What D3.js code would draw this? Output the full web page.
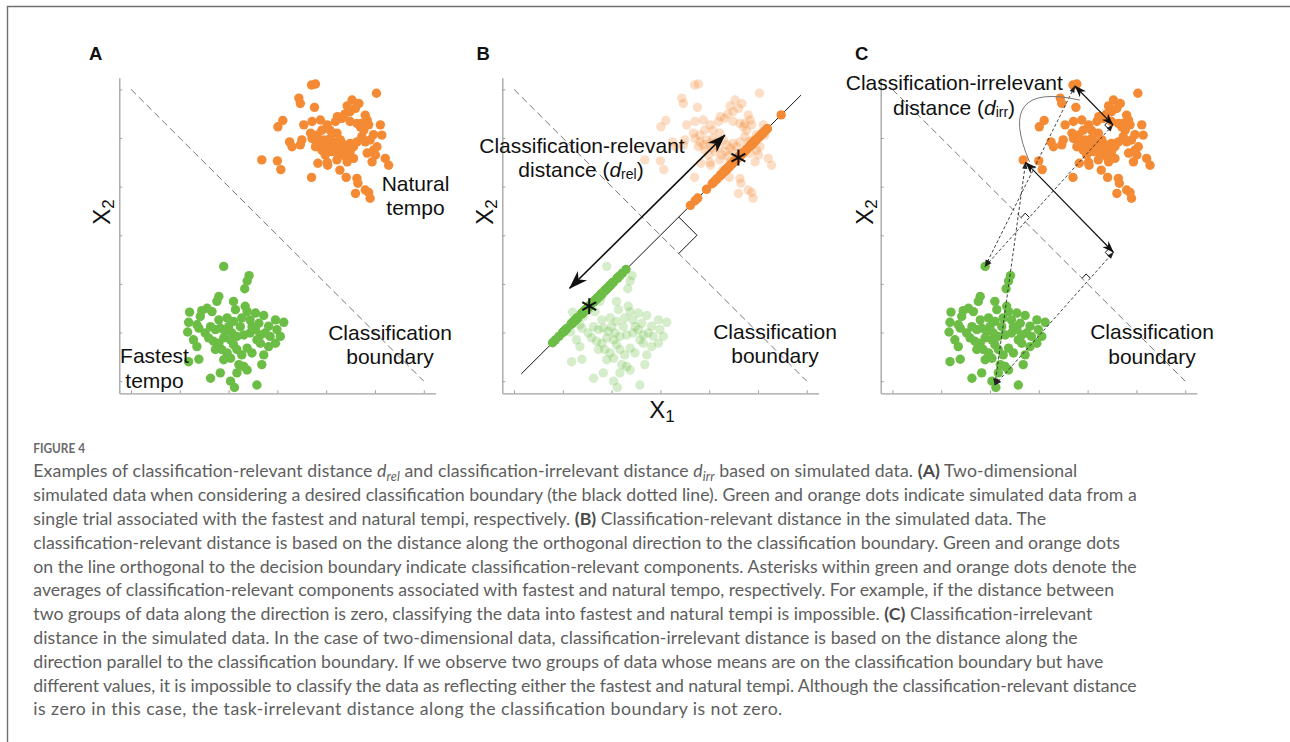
<!DOCTYPE html>
<html><head><meta charset="utf-8">
<script src="https://cdn.jsdelivr.net/npm/d3@7"></script>
<style>
body{margin:0;background:#fff;}
svg{display:block;}
</style></head><body>
<svg id="fig" width="1290" height="742"></svg>
<script>
// Simulated two-dimensional trials (x1, x2)
const fastestTempo = [
 [1.90,2.36],[2.42,2.17],[2.38,2.06],[2.33,1.90],[1.80,1.74],[1.76,1.64],[1.20,1.42],[1.18,1.21],
 [1.45,1.45],[1.56,1.50],[1.66,1.43],[1.42,1.33],[1.39,1.09],[1.35,1.16],[2.10,1.64],[2.14,1.47],
 [2.34,1.54],[2.38,1.43],[2.55,1.40],[2.72,1.35],[1.80,1.26],[1.97,1.30],[2.10,1.23],[2.27,1.30],
 [2.44,1.26],[2.24,1.12],[1.83,1.09],[1.73,1.06],[1.93,1.02],[2.07,0.99],[1.59,0.89],[1.69,0.82],
 [1.80,0.78],[1.90,0.89],[2.04,0.85],[2.17,0.92],[2.31,0.95],[2.44,0.99],[2.55,1.06],[2.65,0.95],
 [2.75,0.99],[2.85,0.92],[2.96,1.26],[3.13,1.21],[2.99,1.06],[3.06,0.92],[2.96,0.78],[2.82,0.71],
 [2.58,0.85],[1.28,0.85],[1.35,0.71],[1.39,0.45],[1.18,0.40],[1.86,0.65],[1.97,0.58],[2.04,0.47],
 [1.90,0.44],[2.17,0.65],[2.27,0.54],[2.38,0.68],[2.48,0.58],[2.21,0.34],[2.31,0.30],[2.38,0.23],
 [2.17,0.17],[2.72,0.54],[2.68,0.34],[1.83,0.17],[1.63,0.06],[2.04,0.00],[2.12,-0.13],[2.58,-0.08],
 [1.63,1.12],[1.52,0.99],[2.00,1.12],[2.62,1.19],[2.82,1.13],[2.48,1.12],[2.10,0.75],[1.73,0.65],
 [2.65,0.78],[1.16,1.01]
];
const naturalTempo = [
 [3.70,6.09],[3.78,6.11],[5.03,5.92],[3.44,5.82],[3.47,5.71],[3.11,5.36],[3.01,5.23],[3.76,5.63],
 [4.53,5.78],[4.67,5.71],[4.43,5.66],[4.60,5.61],[4.49,5.54],[4.38,5.49],[4.23,5.44],[4.32,5.40],
 [4.80,5.47],[4.84,5.37],[4.73,5.30],[4.87,5.27],[4.70,5.23],[5.11,5.27],[4.97,5.07],[5.14,5.06],
 [3.54,5.27],[3.71,5.34],[3.88,5.37],[4.02,5.27],[3.91,5.16],[4.49,5.34],[4.63,5.30],
 [3.25,4.92],[3.30,4.82],[3.50,4.96],[3.47,4.86],
 [3.71,4.99],[3.81,4.92],[3.88,4.86],[3.95,4.96],[4.02,4.89],[4.08,4.99],[4.15,4.92],[3.91,4.75],
 [4.05,4.79],[4.19,4.82],[4.29,4.96],[4.36,4.86],[4.43,4.79],[4.49,4.89],[4.32,4.72],[4.26,4.65],
 [4.39,4.62],[4.22,4.55],[4.49,4.72],[4.56,4.82],
 [4.73,5.03],[4.80,4.92],[4.90,4.96],[4.84,4.69],[4.97,4.75],[5.01,4.65],[4.94,4.51],[5.04,4.82],
 [2.68,4.55],[3.00,4.53],[3.07,4.35],[3.83,4.48],[4.02,4.50],[4.03,4.44],[4.28,4.34],[4.41,4.19],
 [3.70,4.19],[4.63,4.17],[4.65,4.07],[4.80,3.93],[4.87,3.88],[4.60,3.86],[4.90,3.76],[5.21,4.58],
 [5.28,4.44],
 [3.78,4.82],[4.12,4.72],[4.43,4.51],[3.81,5.06],[4.22,5.10],[4.08,5.16],[4.56,4.58],[4.63,4.92],
 [3.98,4.65],[3.68,5.10],[4.77,5.16],[4.19,5.34]
];
const axisTicks = [0,1,2,3,4,5,6];
// decision boundary x1 + x2 = 6
const boundaryLine = [[0,6],[6,0]];
// extent of the orthogonal axis x2 = x1 (panel B)
const relevantAxis = [0.15, 5.88];
const relevantArrow = [[1.14,1.91],[4.32,5.06]];
// trial pairs for the parallel (irrelevant) component (panel C)
const irrelevantPairs = [
 {green:[1.90,2.36], orange:[3.74,6.07], corner:[4.52,5.27]},
 {green:[2.10,-0.08], orange:[2.73,4.50], corner:[4.53,2.65]}
];
const irrelevantArc = [[3.84,5.78],[2.10,6.17],[2.81,4.51]];

const captionLines = [
 [["Examples of classification-relevant distance ",""],["d","i"],["rel","isub"],[" and classification-irrelevant distance ",""],["d","i"],["irr","isub"],[" based on simulated data. ",""],["(A)","b"],[" Two-dimensional",""]],
 [["simulated data when considering a desired classification boundary (the black dotted line). Green and orange dots indicate simulated data from a",""]],
 [["single trial associated with the fastest and natural tempi, respectively. ",""],["(B)","b"],[" Classification-relevant distance in the simulated data. The",""]],
 [["classification-relevant distance is based on the distance along the orthogonal direction to the classification boundary. Green and orange dots",""]],
 [["on the line orthogonal to the decision boundary indicate classification-relevant components. Asterisks within green and orange dots denote the",""]],
 [["averages of classification-relevant components associated with fastest and natural tempo, respectively. For example, if the distance between",""]],
 [["two groups of data along the direction is zero, classifying the data into fastest and natural tempi is impossible. ",""],["(C)","b"],[" Classification-irrelevant",""]],
 [["distance in the simulated data. In the case of two-dimensional data, classification-irrelevant distance is based on the distance along the",""]],
 [["direction parallel to the classification boundary. If we observe two groups of data whose means are on the classification boundary but have",""]],
 [["different values, it is impossible to classify the data as reflecting either the fastest and natural tempi. Although the classification-relevant distance",""]],
 [["is zero in this case, the task-irrelevant distance along the classification boundary is not zero.",""]]
];
const captionWidths = [1044,1103.4,1012.7,1086.7,1103.4,1080.7,1059,1044.4,1070,1103.4,749];

// ---------------------------------------------------------------------------
const W = 1290, H = 742;
const svg = d3.select('#fig');
const FONT = '"Liberation Sans", Arial, Helvetica, sans-serif';
const CAPFONT = 'Lato, "Open Sans", sans-serif';
const ORANGE = '#f48a33', GREEN = '#6cbd45', AXIS = '#a0a0a0', INK = '#111';
const xDom = [-0.24, 6.24], yDom = [-0.25, 6.24];
const plotW = 316.2, plotTop = 77.7, plotBottom = 393.3;
const dotR = 4.7;

const defs = svg.append('defs');
function addMarker(id, d, fill) {
  defs.append('marker').attr('id', id)
    .attr('viewBox', '-20 -10 22 20').attr('markerWidth', 22).attr('markerHeight', 20)
    .attr('refX', 0).attr('refY', 0).attr('markerUnits', 'userSpaceOnUse')
    .attr('orient', 'auto-start-reverse')
    .append('path').attr('d', d).attr('fill', fill);
}
addMarker('headBig', 'M1,0 L-18,-6.6 L-12.5,0 L-18,6.6 Z', INK);
addMarker('headMid', 'M0.5,0 L-11.5,-4.3 L-8,0 L-11.5,4.3 Z', INK);
addMarker('headSmall', 'M0.5,0 L-6.5,-2.6 L-6.5,2.6 Z', '#222');

// frame
svg.append('path').attr('d', `M7.5,${H} V6.5 H${W}`)
  .attr('fill', 'none').attr('stroke', '#6f6f6f').attr('stroke-width', 1.4);

function makePanel(left, letter, letterX) {
  const x = d3.scaleLinear().domain(xDom).range([left, left + plotW]);
  const y = d3.scaleLinear().domain(yDom).range([plotBottom, plotTop]);
  const g = svg.append('g');
  g.append('g').attr('transform', `translate(0,${plotBottom})`)
    .call(d3.axisBottom(x).tickValues(axisTicks).tickSize(-3).tickSizeOuter(0).tickFormat(''));
  g.append('g').attr('transform', `translate(${left},0)`)
    .call(d3.axisLeft(y).tickValues(axisTicks).tickSize(-3).tickSizeOuter(0).tickFormat(''));
  g.selectAll('.domain').attr('stroke', AXIS).attr('stroke-width', 1.3);
  g.selectAll('.tick line').attr('stroke', AXIS).attr('stroke-width', 1);
  svg.append('text').attr('x', letterX).attr('y', 60).text(letter)
    .attr('font-family', FONT).attr('font-weight', 'bold').attr('font-size', 18.5).attr('fill', INK);
  return {g, x, y};
}

function boundary(p) {
  p.g.append('line')
    .attr('x1', p.x(boundaryLine[0][0])).attr('y1', p.y(boundaryLine[0][1]))
    .attr('x2', p.x(boundaryLine[1][0])).attr('y2', p.y(boundaryLine[1][1]))
    .attr('stroke', '#777').attr('stroke-width', 1).attr('stroke-dasharray', '7,4');
}

function dots(p, data, color, opacity) {
  p.g.append('g').selectAll('circle').data(data).join('circle')
    .attr('cx', d => p.x(d[0])).attr('cy', d => p.y(d[1])).attr('r', dotR)
    .attr('fill', color).attr('fill-opacity', opacity);
}

function label(lines, cx, y0, step, size = 21) {
  const t = svg.append('text').attr('font-family', FONT).attr('font-size', size)
    .attr('fill', INK).attr('text-anchor', 'middle');
  lines.forEach((s, i) => t.append('tspan').attr('x', cx).attr('y', y0 + i * step).text(s));
  return t;
}

function distanceLabel(cx, y, sub) {
  const t = svg.append('text').attr('font-family', FONT).attr('font-size', 21)
    .attr('fill', INK).attr('text-anchor', 'middle').attr('x', cx).attr('y', y);
  t.append('tspan').text('distance (');
  t.append('tspan').attr('font-style', 'italic').text('d');
  t.append('tspan').attr('font-size', 14).attr('dy', 1.5).text(sub);
  t.append('tspan').attr('dy', -1.5).text(')');
}

function axisTitle(x, y, sub, rotate) {
  const t = svg.append('text').attr('font-family', FONT).attr('font-size', 24).attr('fill', INK)
    .attr('text-anchor', 'middle')
    .attr('transform', `translate(${x},${y})` + (rotate ? ' rotate(-90)' : ''));
  t.append('tspan').text('X');
  t.append('tspan').attr('font-size', 17).attr('dy', 4).text(sub);
}

function rightAngle(g, c, u, v, s) {
  const a = [c[0] + s * u[0], c[1] + s * u[1]];
  const b = [a[0] + s * v[0], a[1] + s * v[1]];
  const e = [c[0] + s * v[0], c[1] + s * v[1]];
  g.append('path').attr('d', `M${a}L${b}L${e}`).attr('fill', 'none')
    .attr('stroke', INK).attr('stroke-width', 1);
}
const unit = (a, b) => { const dx = b[0] - a[0], dy = b[1] - a[1], n = Math.hypot(dx, dy); return [dx / n, dy / n]; };

// ---------------- Panel A ----------------
const pA = makePanel(119.3, 'A', 89);
boundary(pA);
dots(pA, fastestTempo, GREEN, 1);
dots(pA, naturalTempo, ORANGE, 1);
label(['Natural', 'tempo'], 415.5, 191, 24);
label(['Fastest', 'tempo'], 154.5, 363, 24.5);
label(['Classification', 'boundary'], 390, 340, 23.5);
axisTitle(110, 212, '2', true);

// ---------------- Panel B ----------------
const pB = makePanel(502.3, 'B', 476.5);
dots(pB, fastestTempo, GREEN, 0.28);
dots(pB, naturalTempo, ORANGE, 0.28);
boundary(pB);
pB.g.append('line')
  .attr('x1', pB.x(relevantAxis[0])).attr('y1', pB.y(relevantAxis[0]))
  .attr('x2', pB.x(relevantAxis[1])).attr('y2', pB.y(relevantAxis[1]))
  .attr('stroke', INK).attr('stroke-width', 1);
const proj = d => (d[0] + d[1]) / 2;
[[fastestTempo, GREEN], [naturalTempo, ORANGE]].forEach(([data, col]) => {
  pB.g.append('g').selectAll('circle').data(data).join('circle')
    .attr('cx', d => pB.x(proj(d))).attr('cy', d => pB.y(proj(d))).attr('r', dotR).attr('fill', col);
});
// means of the projected components
[fastestTempo, naturalTempo].forEach(data => {
  const m = d3.mean(data, proj);
  pB.g.append('path').attr('d', d3.symbol(d3.symbolAsterisk, 180)())
    .attr('transform', `translate(${pB.x(m)},${pB.y(m)})`)
    .attr('stroke', INK).attr('stroke-width', 2).attr('fill', 'none');
});
// right angle where the orthogonal axis meets the boundary (x1 = x2, x1 + x2 = 6)
{
  const c = [pB.x(3), pB.y(3)];
  const s = pB.x(0.375) - pB.x(0);
  rightAngle(pB.g, c, [1, -1], [1, 1], s);
}
pB.g.append('line')
  .attr('x1', pB.x(relevantArrow[0][0])).attr('y1', pB.y(relevantArrow[0][1]))
  .attr('x2', pB.x(relevantArrow[1][0])).attr('y2', pB.y(relevantArrow[1][1]))
  .attr('stroke', INK).attr('stroke-width', 1.6)
  .attr('marker-start', 'url(#headBig)').attr('marker-end', 'url(#headBig)');
label(['Classification-relevant'], 582, 152.7, 0);
distanceLabel(581, 177, 'rel');
label(['Classification', 'boundary'], 775, 338.5, 24.5);
axisTitle(493, 212, '2', true);
axisTitle(662, 417.5, '1', false);

// ---------------- Panel C ----------------
const pC = makePanel(880.7, 'C', 855);
dots(pC, fastestTempo, GREEN, 1);
dots(pC, naturalTempo, ORANGE, 1);
boundary(pC);
irrelevantPairs.forEach(pr => {
  const G = [pC.x(pr.green[0]), pC.y(pr.green[1])];
  const P = [pC.x(pr.orange[0]), pC.y(pr.orange[1])];
  const Q = [pC.x(pr.corner[0]), pC.y(pr.corner[1])];
  [[G, P], [G, Q]].forEach(([a, b]) => {
    pC.g.append('line').attr('x1', a[0]).attr('y1', a[1]).attr('x2', b[0]).attr('y2', b[1])
      .attr('stroke', '#2a2a2a').attr('stroke-width', 0.9).attr('stroke-dasharray', '3,2.2')
      .attr('marker-start', 'url(#headSmall)').attr('marker-end', 'url(#headSmall)');
  });
  pC.g.append('line').attr('x1', P[0]).attr('y1', P[1]).attr('x2', Q[0]).attr('y2', Q[1])
    .attr('stroke', INK).attr('stroke-width', 1.2)
    .attr('marker-start', 'url(#headMid)').attr('marker-end', 'url(#headMid)');
  rightAngle(pC.g, Q, unit(Q, G), unit(Q, P), 6);
  // crossing of the orthogonal leg with the boundary
  const g = pr.green, q = pr.corner;
  const t = (6 - g[0] - g[1]) / ((q[0] - g[0]) + (q[1] - g[1]));
  const I = [pC.x(g[0] + t * (q[0] - g[0])), pC.y(g[1] + t * (q[1] - g[1]))];
  rightAngle(pC.g, I, unit(I, Q), [-Math.SQRT1_2, -Math.SQRT1_2], 6);
});
{
  const [s, c, e] = irrelevantArc.map(d => [pC.x(d[0]), pC.y(d[1])]);
  pC.g.append('path').attr('d', `M${s}Q${c} ${e}`).attr('fill', 'none')
    .attr('stroke', '#777').attr('stroke-width', 1);
}
label(['Classification-irrelevant'], 954.3, 90, 0);
distanceLabel(954, 115, 'irr');
label(['Classification', 'boundary'], 1152, 338.5, 25.5);
axisTitle(872.5, 212, '2', true);

// ---------------- Caption ----------------
svg.append('text').attr('x', 33.3).attr('y', 453.3).text('FIGURE 4')
  .attr('font-family', CAPFONT).attr('font-weight', 700).attr('font-size', 14)
  .attr('fill', '#6a6a6a').attr('textLength', 51.7).attr('lengthAdjust', 'spacingAndGlyphs');

const capG = svg.append('g').attr('font-family', CAPFONT).attr('fill', '#5e5e5e');
const capTexts = captionLines.map((segs, i) => {
  const t = capG.append('text').attr('x', 33.3).attr('y', 477.3 + i * 23.8).attr('font-size', 16);
  let shifted = false;
  segs.forEach(([s, st]) => {
    const ts = t.append('tspan').text(s);
    if (st === 'b') ts.attr('font-weight', 700).attr('fill', '#4a4a4a');
    if (st === 'i') ts.attr('font-style', 'italic');
    if (st === 'isub') { ts.attr('font-style', 'italic').attr('font-size', '0.72em').attr('dy', 3.5); shifted = true; }
    else if (shifted) { ts.attr('dy', -3.5); shifted = false; }
  });
  return t;
});
// size the caption font so the full-width lines fit their measured lengths
let nat = 0, tgt = 0;
capTexts.forEach((t, i) => { if (i < 10) { nat += t.node().getComputedTextLength(); tgt += captionWidths[i]; } });
const capSize = 16 * tgt / nat;
capTexts.forEach((t, i) => t.attr('font-size', capSize).attr('textLength', captionWidths[i]).attr('lengthAdjust', 'spacing'));
</script>
</body></html>
